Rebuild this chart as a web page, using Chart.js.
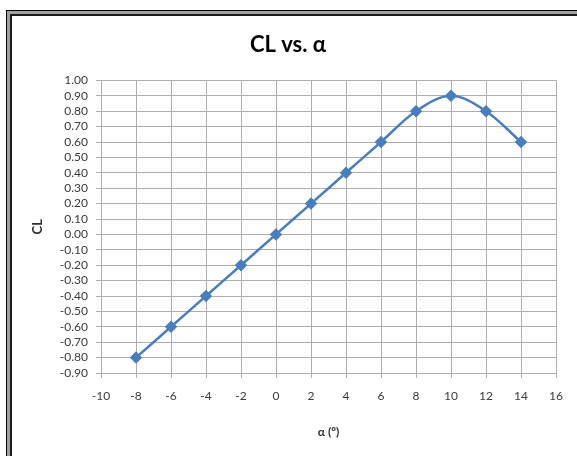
<!DOCTYPE html>
<html lang="en">
<head>
    <meta charset="UTF-8">
    <title>CL vs. alpha</title>
    <script src="https://cdn.jsdelivr.net/npm/chart.js"></script>
    <style>
        html, body {
            margin: 0;
            padding: 0;
            background: #fff;
            overflow: hidden;
        }
        #wrap {
            position: relative;
            width: 577px;
            height: 456px;
        }
        /* the double frame round the chart, it runs off the right and bottom */
        #frame {
            position: absolute;
            left: 6px;
            top: 10px;
            width: 640px;
            height: 520px;
            border: 1px solid #000;
            box-shadow: inset 0 0 0 3px #a0a0a0, inset 0 0 0 5px #1a1a1a;
            pointer-events: none;
        }
    </style>
</head>
<body>
<div id="wrap">
    <canvas id="chart" width="577" height="456"></canvas>
    <div id="frame"></div>
</div>

<script>
    // angle of attack (deg) and lift coefficient
    var alpha = [-8, -6, -4, -2, 0, 2, 4, 6, 8, 10, 12, 14];
    var cl = [-0.80, -0.60, -0.40, -0.20, 0.00, 0.20, 0.40, 0.60, 0.80, 0.90, 0.80, 0.60];

    // axis ticks
    var xTicks = [-10, -8, -6, -4, -2, 0, 2, 4, 6, 8, 10, 12, 14, 16];
    var yTicks = [-0.9, -0.8, -0.7, -0.6, -0.5, -0.4, -0.3, -0.2, -0.1, 0,
                  0.1, 0.2, 0.3, 0.4, 0.5, 0.6, 0.7, 0.8, 0.9, 1.0];

    var points = [];
    for (var i = 0; i < alpha.length; i++) {
        points.push({ x: alpha[i], y: cl[i] });
    }

    function toTicks(list) {
        return list.map(function (v) { return { value: v }; });
    }

    var fontName = 'Lato, "Open Sans", sans-serif';
    var gridColor = '#adadad';
    var blue = '#4a7ebb';

    var ctx = document.getElementById('chart').getContext('2d');

    new Chart(ctx, {
        type: 'scatter',
        data: {
            datasets: [{
                data: points,
                showLine: true,
                borderColor: blue,
                backgroundColor: blue,
                borderWidth: 2.5,
                tension: 0.35,
                pointStyle: 'rectRot',
                pointRadius: 4.5,
                pointHoverRadius: 4.5
            }]
        },
        options: {
            responsive: false,
            animation: false,
            layout: {
                padding: { left: 20, right: 21, top: 0, bottom: 10 }
            },
            plugins: {
                legend: { display: false },
                tooltip: { enabled: false },
                title: {
                    display: true,
                    text: 'CL vs. \u03b1',
                    color: '#000',
                    font: { family: fontName, size: 22, weight: 'bold', lineHeight: 1.2 },
                    padding: { top: 32, bottom: 22 }
                }
            },
            scales: {
                x: {
                    type: 'linear',
                    min: xTicks[0],
                    max: xTicks[xTicks.length - 1],
                    afterBuildTicks: function (scale) {
                        scale.ticks = toTicks(xTicks);
                    },
                    ticks: {
                        autoSkip: false,
                        maxRotation: 0,
                        color: '#3a3a3a',
                        padding: 11,
                        font: { family: fontName, size: 12 }
                    },
                    grid: {
                        color: gridColor,
                        tickColor: gridColor,
                        tickLength: 5
                    },
                    border: { color: gridColor },
                    title: {
                        display: true,
                        text: '\u03b1 (\u00ba)',
                        color: '#303030',
                        font: { family: fontName, size: 12, weight: 'bold', lineHeight: 1.2 },
                        padding: { top: 0, bottom: 7 }
                    },
                    afterFit: function (scale) {
                        scale.height = 73;
                    }
                },
                y: {
                    type: 'linear',
                    min: yTicks[0],
                    max: yTicks[yTicks.length - 1],
                    afterBuildTicks: function (scale) {
                        scale.ticks = toTicks(yTicks);
                    },
                    ticks: {
                        autoSkip: false,
                        color: '#3a3a3a',
                        padding: 8,
                        font: { family: fontName, size: 12 },
                        callback: function (v) {
                            var s = (Math.round(v * 100) / 100).toFixed(2);
                            return s === '-0.00' ? '0.00' : s;
                        }
                    },
                    grid: {
                        color: gridColor,
                        tickColor: gridColor,
                        tickLength: 5
                    },
                    border: { color: gridColor },
                    title: {
                        display: true,
                        text: 'CL',
                        color: '#303030',
                        font: { family: fontName, size: 13, weight: 'bold', lineHeight: 1.2 },
                        padding: { top: 10, bottom: 0 }
                    },
                    afterFit: function (scale) {
                        scale.width = 81;
                    }
                }
            }
        }
    });
</script>
</body>
</html>
